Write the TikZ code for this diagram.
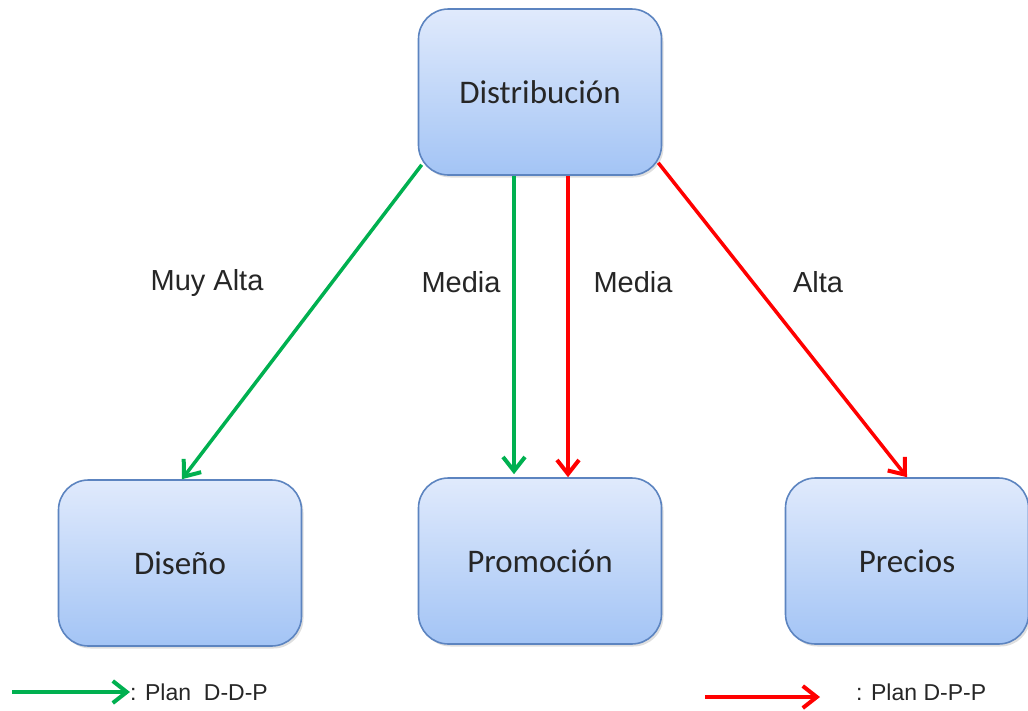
\documentclass[tikz,border=0pt]{standalone}
\usepackage{fontspec}
\setmainfont{Liberation Sans}
\newfontfamily\boxfont{Carlito}
\usepackage{tikz}
\usetikzlibrary{positioning,calc,arrows.meta,shadows}
\definecolor{boxtop}{RGB}{224,234,252}
\definecolor{boxbot}{RGB}{163,196,245}
\definecolor{boxline}{RGB}{92,132,192}
\definecolor{plangreen}{RGB}{0,176,80}
\definecolor{planred}{RGB}{255,0,0}
\tikzset{
  % --- area boxes ------------------------------------------------------------
  area/.style={rectangle,rounded corners=30pt,draw=boxline,line width=1.6pt,
               top color=boxtop,bottom color=boxbot,
               minimum width=243pt,minimum height=166pt,
               font=\boxfont\fontsize{33}{36}\selectfont,text=black!85,
               drop shadow={shadow xshift=2pt,shadow yshift=-2.5pt,opacity=0.25}},
  % --- plans -----------------------------------------------------------------
  ddp/.style={-{Straight Barb[length=14pt,width=22pt,line width=4pt]},
              plangreen,line width=3.5pt},
  dpp/.style={-{Straight Barb[length=14pt,width=22pt,line width=4pt]},
              planred,line width=3.5pt},
  rlab/.style={font=\fontsize{29}{32}\selectfont,text=black!85,inner sep=0pt},
  legtxt/.style={font=\fontsize{23}{26}\selectfont,text=black!85,inner sep=0pt},
}
\begin{document}
\begin{tikzpicture}[x=1pt, y=-1pt]
  \useasboundingbox (0,0) rectangle (1028,710);

  \node[area] (dist) at (540,92)  {Distribución};
  \node[area] (dise) at (180,563) {Diseño};
  \node[area] (prom) at (540,561) {Promoción};
  \node[area] (prec) at (907,561) {Precios};

  % plan D-D-P
  \draw[ddp] ($(dist.south west)+(4,-11)$) -- ([xshift=2pt]dise.north);
  \draw[ddp] ([xshift=-26pt]dist.south) -- ([xshift=-26pt,yshift=3pt]prom.north);
  % plan D-P-P
  \draw[dpp] ([xshift=28pt]dist.south) -- ([xshift=28pt]prom.north);
  \draw[dpp] ($(dist.south east)+(-4,-13)$) -- (prec.north);

  \node[rlab] (l1) at (207,283) {Muy Alta};
  \node[rlab] (l2) at (461,282) {Media};
  \node[rlab] (l3) at (633,282) {Media};
  \node[rlab] (l4) at (818,282) {Alta};

  % legend
  \coordinate (g0) at (12,692);
  \node[legtxt,anchor=west] (gl) at (130,692) {: Plan\ \ D-D-P};
  \draw[ddp] (g0) -- (gl.west);
  \coordinate (r0) at (705,697);
  \coordinate (r1) at (820,697);
  \node[legtxt,anchor=west] (rl) at (856,692) {: Plan D-P-P};
  \draw[dpp] (r0) -- (r1);
\end{tikzpicture}
\end{document}
